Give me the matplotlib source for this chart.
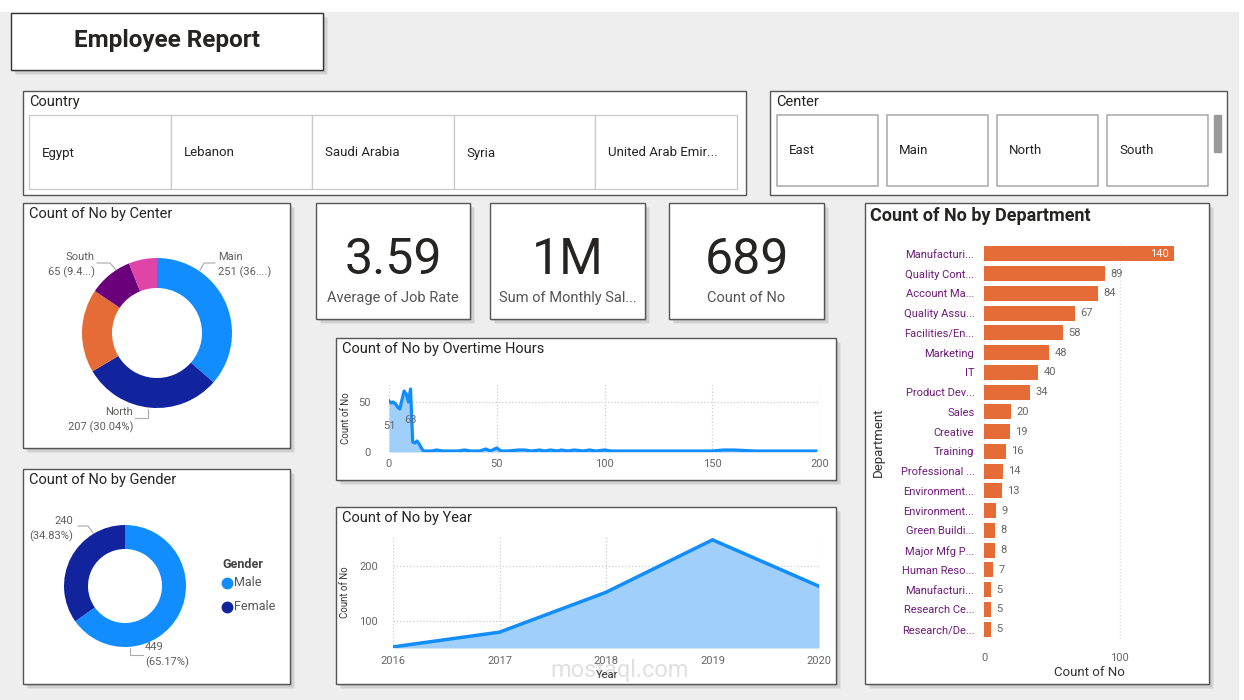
import numpy as np
import matplotlib
matplotlib.use("Agg")
import matplotlib.pyplot as plt
from matplotlib.patches import Rectangle

plt.rcParams['font.family'] = ['Roboto', 'DejaVu Sans']

# ---- data ----
countries = ["Egypt", "Lebanon", "Saudi Arabia", "Syria", "United Arab Emir..."]
centers_slicer = ["East", "Main", "North", "South"]

center_names = ["Main", "North", "East", "South", "West"]
center_counts = [251, 207, 124, 65, 42]
center_colors = ["#118DFF", "#12239E", "#E66C37", "#6B007B", "#E044A7"]

gender_names = ["Male", "Female"]
gender_counts = [449, 240]
gender_colors = ["#118DFF", "#12239E"]

kpi_values = ["3.59", "1M", "689"]
kpi_labels = ["Average of Job Rate", "Sum of Monthly Sal...", "Count of No"]

ot_hours = [0, 1, 2, 3, 4, 5, 6, 7, 8, 9, 10, 11, 12, 13, 14, 15, 16, 18, 20,
            22, 25, 28, 32, 35, 38, 42, 45, 47, 50, 52, 55, 60, 63, 66, 70, 72,
            75, 78, 80, 83, 86, 90, 93, 96, 100, 103, 110, 120, 130, 140, 150,
            155, 160, 170, 180, 190, 198]
ot_counts = [51, 49, 50, 48, 45, 43, 52, 61, 58, 50, 63, 10, 9, 11, 8, 4, 1, 1, 1,
             2, 1, 1, 1, 2, 1, 1, 3, 1, 4, 1, 1, 2, 2, 1, 2, 1,
             2, 1, 2, 1, 2, 1, 2, 1, 2, 1, 1, 1, 1, 1, 1,
             2, 2, 1, 1, 1, 1]

years = [2016, 2017, 2018, 2019, 2020]
year_counts = [52, 79, 152, 248, 163]

departments = ["Manufacturi...", "Quality Cont...", "Account Ma...", "Quality Assu...",
               "Facilities/En...", "Marketing", "IT", "Product Dev...", "Sales",
               "Creative", "Training", "Professional ...", "Environment...",
               "Environment...", "Green Buildi...", "Major Mfg P...", "Human Reso...",
               "Manufacturi...", "Research Ce...", "Research/De..."]
dept_counts = [140, 89, 84, 67, 58, 48, 40, 34, 20, 19, 16, 14, 13, 9, 8, 8, 7, 5, 5, 5]

W, H = 1244, 700
BLUE = "#118DFF"
FILL = "#9FCFFA"
TXT = "#252423"
GRAY = "#666666"

fig = plt.figure(figsize=(W / 100, H / 100), dpi=100)
fig.patch.set_facecolor("white")

bg = fig.add_axes([0, 0, 1, 1])
bg.set_xlim(0, W)
bg.set_ylim(H, 0)
bg.axis("off")
bg.add_patch(Rectangle((0, 12), 1238, H - 12, color="#EEEEEE", zorder=0))


def panel(x0, y0, x1, y1, ec="#555555", lw=1.0, shadow=True):
    if shadow:
        for off, a in [(5, 0.05), (3.5, 0.07), (2, 0.09)]:
            bg.add_patch(Rectangle((x0 + off, y0 + off), x1 - x0, y1 - y0,
                                   color="black", alpha=a, lw=0, zorder=1))
    bg.add_patch(Rectangle((x0, y0), x1 - x0, y1 - y0, fc="white", ec=ec,
                           lw=lw, zorder=2))


def px_axes(x0, y0, x1, y1):
    ax = fig.add_axes([x0 / W, 1 - y1 / H, (x1 - x0) / W, (y1 - y0) / H])
    ax.patch.set_alpha(0)
    return ax


# title box
panel(11, 13, 323, 70, ec="#333333")
bg.text(167, 40, "Employee Report", ha="center", va="center", fontsize=17.5,
        fontweight="bold", color=TXT, zorder=3)

# country slicer
panel(23, 91, 746, 195, shadow=False)
bg.text(29, 102, "Country", ha="left", va="center", fontsize=10.5, color=TXT, zorder=3)
cw = (737 - 29) / len(countries)
for i, c in enumerate(countries):
    x = 29 + i * cw
    bg.add_patch(Rectangle((x, 115), cw, 74, fc="white", ec="#C8C8C8", lw=0.9, zorder=3))
    bg.text(x + 13, 153, c, ha="left", va="center", fontsize=9.5, color=TXT, zorder=4)

# center slicer
panel(770, 91, 1227, 195, shadow=False)
bg.text(776, 102, "Center", ha="left", va="center", fontsize=10.5, color=TXT, zorder=3)
for i, c in enumerate(centers_slicer):
    x = 777 + i * 110
    bg.add_patch(Rectangle((x, 115), 101, 71, fc="white", ec="#A8A8A8", lw=1.1, zorder=3))
    bg.text(x + 12, 151, c, ha="left", va="center", fontsize=9.5, color=TXT, zorder=4)
bg.add_patch(Rectangle((1214, 115), 7, 37, color="#999999", zorder=3))

# panels
panel(23, 203, 290, 448)
panel(23, 469, 290, 684)
kpi_x = [(316, 470), (490, 645), (669, 824)]
for (x0, x1) in kpi_x:
    panel(x0, 203, x1, 319)
panel(336, 338, 836, 480)
panel(336, 507, 836, 684)
panel(865, 203, 1209, 684)

# ---- center donut ----
bg.text(29, 214, "Count of No by Center", ha="left", va="center", fontsize=10.5,
        color=TXT, zorder=3)
ax = px_axes(72, 248, 242, 418)
ax.pie(center_counts, colors=center_colors, startangle=90, counterclock=False,
       radius=75, wedgeprops=dict(width=30, edgecolor="white", linewidth=0))
ax.set_xlim(-85, 85)
ax.set_ylim(-85, 85)
ax.set_aspect("equal")
tot = sum(center_counts)
lab = dict(fontsize=8, color="#605E5C", zorder=4, linespacing=1.5)
bg.text(218, 265, f"{center_names[0]}\n{center_counts[0]} (36....)", ha="left",
        va="center", **lab)
bg.text(95, 265, f"{center_names[3]}\n{center_counts[3]} (9.4...)", ha="right",
        va="center", **lab)
bg.text(133, 420, f"{center_names[1]}\n{center_counts[1]} "
        f"({center_counts[1] / tot * 100:.2f}%)", ha="right", va="center", **lab)
lc = dict(color="#AAAAAA", lw=0.8, zorder=4)
bg.plot([200, 204, 215], [270, 263, 263], **lc)
bg.plot([97, 110, 116], [263, 263, 270], **lc)
bg.plot([135, 148, 148], [418, 418, 409], **lc)

# ---- gender donut ----
bg.text(29, 480, "Count of No by Gender", ha="left", va="center", fontsize=10.5,
        color=TXT, zorder=3)
ax = px_axes(55, 516, 195, 656)
ax.pie(gender_counts, colors=gender_colors, startangle=90, counterclock=False,
       radius=61, wedgeprops=dict(width=24, edgecolor="white", linewidth=0))
ax.set_xlim(-70, 70)
ax.set_ylim(-70, 70)
ax.set_aspect("equal")
gt = sum(gender_counts)
bg.text(73, 529, f"{gender_counts[1]}\n({gender_counts[1] / gt * 100:.2f}%)",
        ha="right", va="center", **lab)
bg.text(145, 655, f"{gender_counts[0]}\n({gender_counts[0] / gt * 100:.2f}%)",
        ha="left", va="center", **lab)
bg.plot([78, 88, 93], [526, 526, 533], **lc)
bg.plot([130, 130, 143], [648, 655, 655], **lc)
bg.text(222, 564, "Gender", ha="left", va="center", fontsize=9, fontweight="bold",
        color="#444444", zorder=4)
for i, (g, c) in enumerate(zip(gender_names, gender_colors)):
    y = 583 + i * 24
    bg.plot([227], [y], "o", ms=7.5, color=c, zorder=4)
    bg.text(234, y, g, ha="left", va="center", fontsize=9, color="#555555", zorder=4)

# ---- KPI cards ----
for (x0, x1), v, l in zip(kpi_x, kpi_values, kpi_labels):
    xc = (x0 + x1) / 2
    bg.text(xc, 260, v, ha="center", va="center", fontsize=36, color=TXT, zorder=4)
    bg.text(xc, 298, l, ha="center", va="center", fontsize=10.5, color="#555555", zorder=4)

# ---- overtime hours ----
bg.text(342, 349, "Count of No by Overtime Hours", ha="left", va="center",
        fontsize=10.5, color=TXT, zorder=3)
ax = px_axes(389, 384, 820, 452)
ax.fill_between(ot_hours, ot_counts, 0, color=FILL, lw=0)
ax.plot(ot_hours, ot_counts, color=BLUE, lw=2.3)
ax.set_xlim(0, 200)
ax.set_ylim(0, 68)
ax.set_xticks([0, 50, 100, 150, 200])
ax.set_yticks([0, 50])
ax.grid(True, ls=":", color="#CCCCCC", lw=0.9)
ax.tick_params(length=0, labelsize=8, labelcolor=GRAY, pad=5)
ax.tick_params(axis="y", pad=13)
for s in ax.spines.values():
    s.set_visible(False)
ax.set_axisbelow(True)
ax.text(0, 26, str(ot_counts[0]), ha="center", va="center", fontsize=8,
        color=GRAY, clip_on=False)
ax.text(9.8, 32, str(max(ot_counts)), ha="center", va="center", fontsize=8,
        color=GRAY, clip_on=False)
bg.text(346, 418, "Count of No", rotation=90, ha="center", va="center",
        fontsize=7, color="#333333", zorder=4)

# ---- year ----
bg.text(342, 518, "Count of No by Year", ha="left", va="center", fontsize=10.5,
        color=TXT, zorder=3)
ax = px_axes(393, 536, 819, 648)
ax.fill_between(years, year_counts, 50, color=FILL, lw=0)
ax.plot(years, year_counts, color=BLUE, lw=2.5)
ax.set_xlim(2016, 2020)
ax.set_ylim(50, 255)
ax.set_xticks(years)
ax.set_yticks([100, 200])
ax.grid(True, ls=":", color="#CCCCCC", lw=0.9)
ax.tick_params(length=0, labelsize=8, labelcolor=GRAY, pad=6)
ax.tick_params(axis="y", pad=11)
for s in ax.spines.values():
    s.set_visible(False)
ax.set_axisbelow(True)
bg.text(345, 592, "Count of No", rotation=90, ha="center", va="center",
        fontsize=7, color="#333333", zorder=4)
bg.text(607, 675, "Year", ha="center", va="center", fontsize=8, color="#333333", zorder=4)
bg.text(620, 671, "mostaql.com", ha="center", va="center", fontsize=17,
        color="#999999", alpha=0.3, zorder=3)

# ---- department ----
bg.text(870, 216, "Count of No by Department", ha="left", va="center", fontsize=13,
        fontweight="bold", color=TXT, zorder=3)
ax = px_axes(984, 244, 1190, 639)
ypos = np.arange(len(departments))
ax.barh(ypos, dept_counts, height=0.76, color="#E66C37")
ax.set_ylim(len(departments) - 0.5, -0.5)
ax.set_xlim(0, 152)
ax.set_yticks(ypos)
ax.set_yticklabels(departments, fontsize=8, color="#6E1A7B")
ax.set_xticks([0, 100])
ax.grid(True, axis="x", ls=":", color="#DDDDDD", lw=0.9)
ax.set_axisbelow(True)
ax.tick_params(length=0, labelsize=8, pad=7)
ax.tick_params(axis="x", labelcolor=GRAY, pad=10)
for s in ax.spines.values():
    s.set_visible(False)
for y, v in zip(ypos, dept_counts):
    if v == max(dept_counts):
        ax.text(v - 4, y, str(v), ha="right", va="center", fontsize=8, color="white")
    else:
        ax.text(v + 4, y, str(v), ha="left", va="center", fontsize=8, color=GRAY)
bg.text(878, 442, "Department", rotation=90, ha="center", va="center", fontsize=9.5,
        color="#333333", zorder=4)
bg.text(1089, 672, "Count of No", ha="center", va="center", fontsize=9.5,
        color="#333333", zorder=4)

fig.savefig("out.png", dpi=100)
